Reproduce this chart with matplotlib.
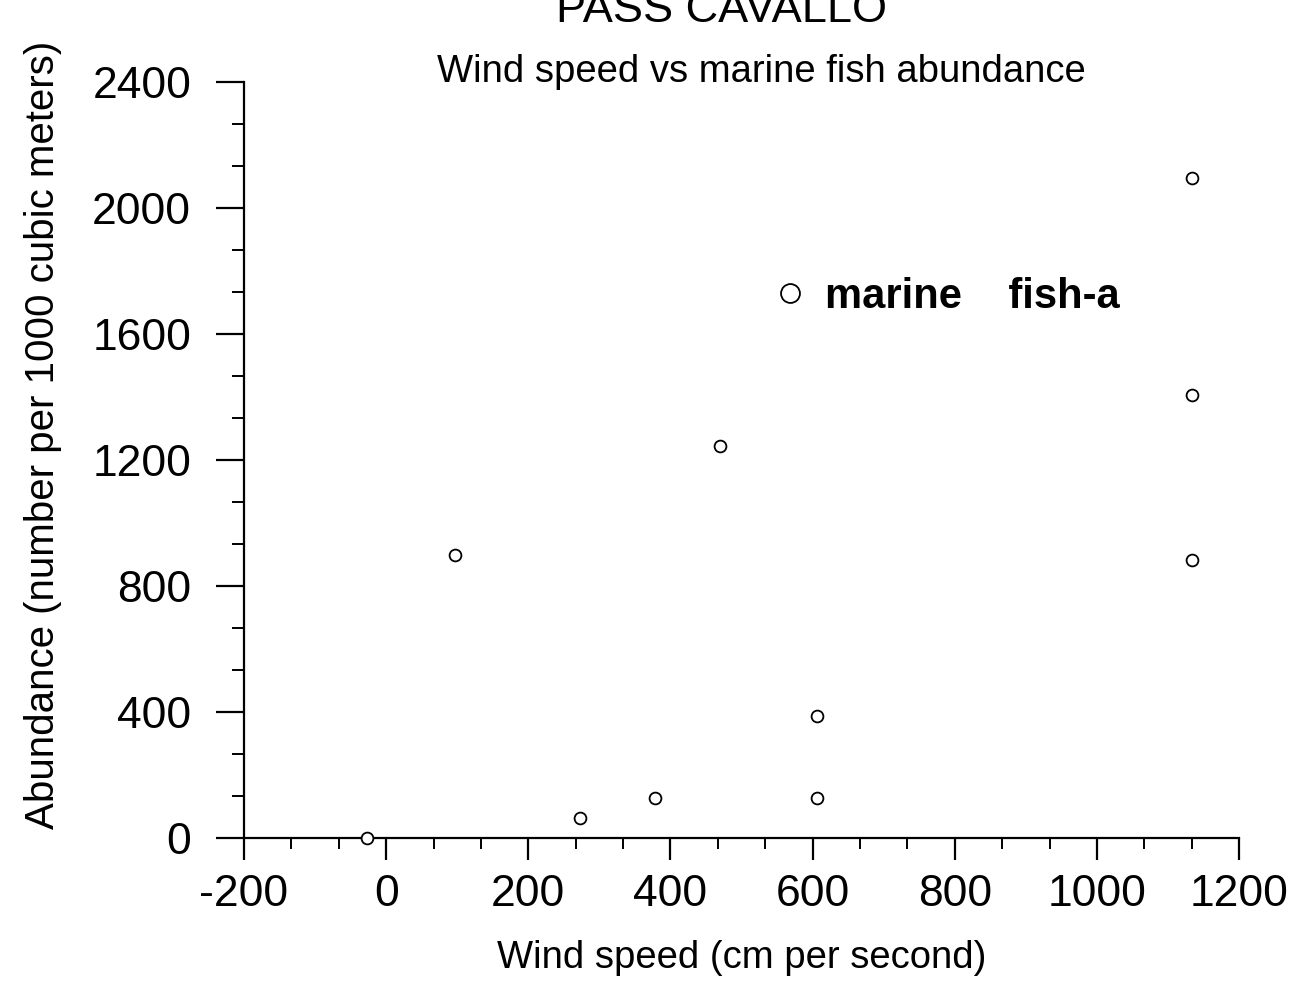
import matplotlib.pyplot as plt
import numpy as np
from matplotlib.ticker import MultipleLocator, AutoMinorLocator

plt.rcParams['font.family'] = ['Liberation Sans', 'DejaVu Sans']
plt.rcParams['axes.unicode_minus'] = False

# wind speed (cm/s) and marine fish abundance (number per 1000 m^3)
wind_speed = [-27, 97, 273, 378, 470, 606, 606, 1134, 1134, 1134]
abundance = [0, 898, 63, 127, 1244, 387, 127, 2095, 1406, 883]

fig = plt.figure(figsize=(13, 9.84), dpi=100)
ax = fig.add_axes([0.1877, 0.1484, 0.9531 - 0.1877, 0.9167 - 0.1484])

ax.plot(wind_speed, abundance, linestyle='none', marker='o', markersize=8.5,
        markerfacecolor='white', markeredgecolor='black', markeredgewidth=1.3,
        clip_on=False, label='marine    fish-a', zorder=3)

ax.set_xlim(-200, 1200)
ax.set_ylim(0, 2400)
ax.xaxis.set_major_locator(MultipleLocator(200))
ax.yaxis.set_major_locator(MultipleLocator(400))
ax.xaxis.set_minor_locator(AutoMinorLocator(3))
ax.yaxis.set_minor_locator(AutoMinorLocator(3))

for s in ['top', 'right']:
    ax.spines[s].set_visible(False)
for s in ['left', 'bottom']:
    ax.spines[s].set_linewidth(1.6)

ax.tick_params(axis='y', which='major', direction='out', length=20, width=1.6, labelsize=32, pad=18)
ax.tick_params(axis='y', which='minor', direction='out', length=9, width=1.4)
ax.tick_params(axis='x', which='major', direction='out', length=16, width=1.6, labelsize=32, pad=10)
ax.tick_params(axis='x', which='minor', direction='out', length=8, width=1.4)

ax.set_xlabel('Wind speed (cm per second)', fontsize=27.5, labelpad=18)
ax.set_ylabel('Abundance (number per 1000 cubic meters)', fontsize=29, labelpad=22)
ax.yaxis.label.set_y(0.533)

fig.text(0.555, 0.989, 'PASS CAVALLO', fontsize=32.5, ha='center', va='center')
fig.text(0.586, 0.927, 'Wind speed vs marine fish abundance', fontsize=27.5, ha='center', va='center')

leg = ax.legend(loc='center left', bbox_to_anchor=(0.498, 0.716), frameon=False,
                markerscale=1.6, handlelength=0.6, handletextpad=0.55,
                prop={'size': 30, 'weight': 'bold'})

fig.savefig('out.png', dpi=100)
